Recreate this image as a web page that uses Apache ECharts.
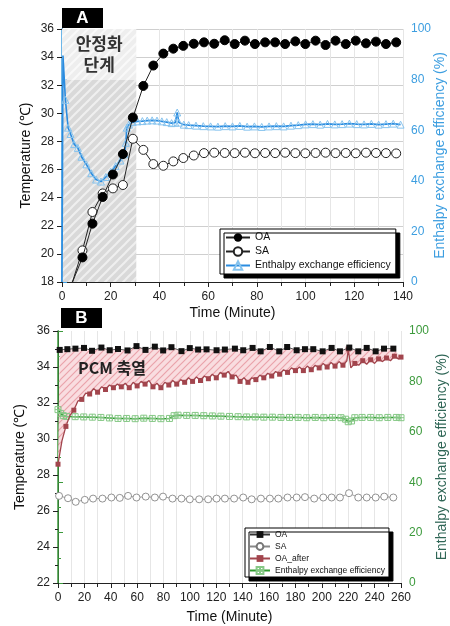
<!DOCTYPE html>
<html>
<head>
<meta charset="utf-8">
<script src="https://cdn.jsdelivr.net/npm/echarts/dist/echarts.min.js"></script>
<style>
html,body{margin:0;padding:0;background:#fff}
#chartA,#chartB{position:absolute;left:0;width:450px;height:326px}
#chartA{top:0}
#chartB{top:300px}
</style>
</head>
<body>
<div id="chartA"></div>
<div id="chartB"></div>
<script>
// ---------- A : 안정화 단계 ----------
var aTime = [4.1, 8.4, 12.5, 16.7, 20.9, 25.0, 29.1, 33.4, 37.5, 41.6, 45.7, 49.8, 54.1, 58.3, 62.5, 66.8, 70.9,
  75.1, 79.2, 83.4, 87.5, 91.6, 95.8, 99.9, 104.1, 108.2, 112.3, 116.5, 120.6, 124.8, 128.9, 133.0, 137.2];
var aOA = [17.9, 19.75, 22.15, 24.05, 25.65, 27.1, 29.7, 31.95, 33.4, 34.25, 34.6, 34.8, 34.95, 35.05, 34.95, 35.2, 34.93,
  35.17, 34.93, 35.05, 35.05, 34.93, 35.12, 34.93, 35.17, 34.86, 35.17, 34.93, 35.17, 34.98, 35.1, 34.93, 35.05];
var aSA = [17.9, 20.25, 22.98, 24.3, 24.66, 24.9, 28.19, 27.4, 26.39, 26.27, 26.58, 26.82, 27.0, 27.17, 27.2, 27.18, 27.17,
  27.2, 27.16, 27.18, 27.17, 27.2, 27.17, 27.16, 27.18, 27.2, 27.17, 27.18, 27.16, 27.2, 27.18, 27.17, 27.15];
var aEffTime = [0, 0.4, 1.4, 2.5, 3.5, 5, 6.5, 8, 10, 12, 14, 16, 18, 20, 22, 24, 25.7, 26.2, 26.6, 27.5, 29, 31, 33, 35, 37,
  39, 41, 43, 45, 46.5, 47.3, 48, 50, 52, 55, 58, 61, 64, 67, 70, 73, 76, 79, 82, 85, 88, 91, 94, 97, 100, 103, 106, 109,
  112, 115, 118, 121, 124, 127, 130, 133, 136, 139];
var aEff = [0, 89.5, 72, 61, 58.5, 54.5, 53, 49.5, 46.5, 43, 40.5, 39.7, 41.5, 43.5, 45.8, 48, 50.5, 55, 61, 62.2, 63.2, 63.5,
  63.6, 63.8, 63.9, 63.8, 63.5, 63.2, 62.8, 63, 67, 63, 62.2, 62, 61.8, 61.6, 61.5, 61.4, 61.6, 61.5, 61.7, 61.4, 61.5,
  61.3, 61.5, 61.6, 61.5, 61.8, 62.0, 62.3, 62.4, 62.2, 62.5, 62.3, 62.4, 62.6, 62.4, 62.3, 62.5, 62.2, 62.4, 62.6, 62.2];
var aStageEnd = 30.5;   // 안정화 단계 끝 (min)
var aStageSplit = 32.4; // 글자 박스 아래 경계 (℃)

// ---------- B : PCM 축열 ----------
var bOATime = [1.3, 7.1, 13.2, 19.7, 25.8, 32.9, 39.2, 45.5, 52.7, 59.5, 66.3, 73.4, 79.7, 86.0, 93.6, 99.9, 106.2, 112.6,
  120.2, 126.5, 134.1, 140.4, 147.5, 153.6, 160.6, 167.7, 173.7, 180.9, 187.2, 193.5, 200.6, 207.4, 213.7, 220.8, 227.6,
  234.0, 240.8, 247.1, 254.2];
var bOA = [34.95, 34.99, 35.02, 35.06, 34.9, 35.08, 34.93, 35.0, 34.92, 35.16, 34.95, 35.13, 34.92, 35.1, 34.88, 35.05, 34.97,
  34.98, 34.93, 34.97, 35.02, 34.93, 35.06, 34.87, 35.11, 34.87, 35.11, 34.93, 34.99, 34.99, 34.87, 35.06, 34.87, 35.08,
  34.87, 35.06, 34.87, 35.02, 35.02];
var bSATime = [0.8, 7.6, 13.4, 20.3, 26.6, 33.7, 40.5, 46.8, 53.1, 59.5, 66.5, 73.4, 79.6, 86.8, 93.6, 99.9, 107.0, 113.8,
  120.2, 126.5, 133.5, 140.4, 146.8, 153.8, 160.6, 167.0, 174.0, 180.9, 187.2, 194.2, 201.1, 207.4, 213.7, 220.6, 227.6,
  234.0, 240.8, 247.3, 254.2];
var bSA = [26.84, 26.71, 26.51, 26.62, 26.69, 26.69, 26.75, 26.73, 26.84, 26.75, 26.8, 26.75, 26.8, 26.69, 26.69, 26.65,
  26.65, 26.65, 26.69, 26.69, 26.69, 26.75, 26.65, 26.69, 26.69, 26.69, 26.75, 26.75, 26.77, 26.69, 26.75, 26.75, 26.75,
  26.99, 26.75, 26.75, 26.75, 26.8, 26.75];
var bAfterTime = [0, 3, 6, 9, 12, 15, 18, 21, 24, 27, 30, 33, 36, 39, 42, 45, 48, 51, 54, 57, 60, 63, 66, 69, 72, 75, 78,
  81, 84, 87, 90, 93, 96, 99, 102, 105, 108, 111, 114, 117, 120, 123, 126, 129, 132, 135, 138, 141, 144, 147, 150, 153,
  156, 159, 162, 165, 168, 171, 174, 177, 180, 183, 186, 189, 192, 195, 198, 201, 204, 207, 210, 213, 216, 219, 220, 222,
  225, 228, 231, 234, 237, 240, 243, 246, 249, 252, 255, 258, 260];
var bAfter = [28.6, 29.9, 30.7, 31.3, 31.6, 32.1, 32.2, 32.55, 32.5, 32.8, 32.6, 32.9, 32.75, 33.0, 32.85, 33.05, 32.9, 33.1,
  32.85, 33.15, 32.95, 33.2, 33.05, 33.25, 32.9, 33.1, 32.85, 33.15, 33.0, 33.25, 33.05, 33.3, 33.15, 33.4, 33.2, 33.45,
  33.25, 33.5, 33.35, 33.6, 33.4, 33.7, 33.55, 33.75, 33.45, 33.55, 33.2, 33.4, 33.15, 33.4, 33.3, 33.55, 33.4, 33.65,
  33.5, 33.75, 33.6, 33.85, 33.7, 33.95, 33.8, 34.0, 33.8, 34.05, 33.85, 34.1, 33.95, 34.2, 34.0, 34.25, 34.05, 34.3, 34.1,
  34.35, 35.0, 33.95, 34.2, 34.1, 34.35, 34.15, 34.4, 34.2, 34.45, 34.3, 34.5, 34.35, 34.6, 34.45, 34.55];
var bEffTime = [0, 2, 4, 6.5, 13, 19.5, 26, 32.5, 39, 45.5, 52, 58.5, 65, 71.5, 78, 84.5, 88, 91, 97.5, 104, 110.5, 117,
  123.5, 130, 136.5, 143, 149.5, 156, 162.5, 169, 175.5, 182, 188.5, 195, 201.5, 208, 214.5, 218, 220, 222.5, 225, 230.5,
  237, 243.5, 250, 256.5, 260];
var bEff = [68.8, 67.3, 66.4, 66.1, 66.0, 65.9, 65.8, 65.7, 65.5, 65.3, 65.3, 65.2, 65.4, 65.3, 65.2, 65.3, 66.4, 66.6, 66.5,
  66.5, 66.4, 66.3, 66.2, 66.1, 66.0, 65.9, 65.9, 65.8, 65.8, 65.7, 65.7, 65.7, 65.6, 65.7, 65.6, 65.7, 65.6, 65.0, 64.0,
  64.3, 65.6, 65.7, 65.7, 65.6, 65.7, 65.7, 65.6];

var FONT = 'Liberation Sans, Arial, sans-serif';

function pairs(xs, ys) {
  return xs.map(function (x, i) { return [x, ys[i]]; });
}

// 빗금 패턴
function hatch(bg, fg, size, lw) {
  var c = document.createElement('canvas');
  c.width = c.height = size;
  var g = c.getContext('2d');
  g.fillStyle = bg;
  g.fillRect(0, 0, size, size);
  g.strokeStyle = fg;
  g.lineWidth = lw;
  g.beginPath();
  g.moveTo(0, size); g.lineTo(size, 0);
  g.moveTo(-size / 2, size / 2); g.lineTo(size / 2, -size / 2);
  g.moveTo(size / 2, size * 1.5); g.lineTo(size * 1.5, size / 2);
  g.stroke();
  return { image: c, repeat: 'repeat' };
}

function tag(letter, x, y) {
  return {
    type: 'rect', left: x, top: y, shape: { width: 41, height: 20 }, style: { fill: '#000' },
    textContent: { style: { text: letter, fill: '#fff', font: 'bold 17px ' + FONT } },
    textConfig: { position: 'inside' }
  };
}

function legendBox(left, top, fs, gap, iw, pad) {
  return {
    orient: 'vertical', left: left, top: top, padding: pad, itemGap: gap,
    itemWidth: iw, itemHeight: fs, backgroundColor: '#fff', borderColor: '#000', borderWidth: 1,
    shadowColor: '#000', shadowOffsetX: 4, shadowOffsetY: 4, shadowBlur: 0, borderRadius: 0,
    textStyle: { fontSize: fs, color: '#111', fontFamily: FONT }
  };
}

function topAxis(max) {
  return {
    type: 'value', position: 'top', min: 0, max: max, interval: 10,
    axisLine: { show: true, lineStyle: { color: '#222' } },
    axisTick: { show: true, inside: true, length: 4, lineStyle: { color: '#222' } },
    axisLabel: { show: false },
    splitLine: { show: true, lineStyle: { color: '#e6e6e6', width: 1 } }
  };
}

function bottomAxis(max, gap) {
  return {
    type: 'value', position: 'bottom', min: 0, max: max, interval: 20,
    name: 'Time (Minute)', nameLocation: 'middle', nameGap: gap, nameMoveOverlap: false,
    nameTextStyle: { fontSize: 14, color: '#111', fontFamily: FONT },
    axisLine: { show: true, onZero: false, lineStyle: { color: '#222' } },
    axisTick: { show: true, length: 5, lineStyle: { color: '#222' } },
    minorTick: { show: true, splitNumber: 2, length: 3, lineStyle: { color: '#222' } },
    axisLabel: { fontSize: 12, color: '#222', margin: 9, fontFamily: FONT },
    splitLine: { show: false }
  };
}

function leftAxis(min, max, gridColor, minor, gap) {
  return {
    type: 'value', position: 'left', min: min, max: max, interval: 2,
    name: 'Temperature (℃)', nameLocation: 'middle', nameGap: gap, nameMoveOverlap: false,
    nameTextStyle: { fontSize: 14, color: '#111', fontFamily: FONT },
    axisLine: { show: true, onZero: false, lineStyle: { color: '#222' } },
    axisTick: { show: true, length: 5, lineStyle: { color: '#222' } },
    minorTick: { show: minor, splitNumber: 2, length: 3, lineStyle: { color: '#222' } },
    axisLabel: { fontSize: 12, color: '#222', margin: 8, fontFamily: FONT },
    splitLine: { show: !!gridColor, lineStyle: { color: gridColor || '#ddd' } }
  };
}

function rightAxis(color, nameColor, gap) {
  return {
    type: 'value', position: 'right', min: 0, max: 100, interval: 20,
    name: 'Enthalpy exchange efficiency (%)', nameLocation: 'middle', nameGap: gap, nameMoveOverlap: false,
    nameTextStyle: { fontSize: 14, color: nameColor, fontFamily: FONT },
    axisLine: { show: true, lineStyle: { color: color, width: 1.5 } },
    axisTick: { show: true, length: 5, lineStyle: { color: color } },
    minorTick: { show: true, splitNumber: 2, length: 3, lineStyle: { color: color } },
    axisLabel: { fontSize: 12, color: color, margin: 8, fontFamily: FONT },
    splitLine: { show: false }
  };
}

// ================= Chart A =================
var chartA = echarts.init(document.getElementById('chartA'));
var legA = legendBox(220, 229, 10.5, 3, 24, [3, 5]);
legA.data = ['OA', 'SA', 'Enthalpy exchange efficiency'];
chartA.setOption({
  animation: false,
  textStyle: { fontFamily: FONT },
  grid: { left: 62, top: 29, width: 341, height: 253, outerBoundsMode: 'none' },
  legend: legA,
  graphic: [tag('A', 62, 8)],
  xAxis: [bottomAxis(140, 24), topAxis(140)],
  yAxis: [leftAxis(18, 36, '#cfcfcf', false, 29), rightAxis('#3d9ee0', '#3d9ee0', 30)],
  series: [
    {
      type: 'line', data: [], z: 1, silent: true,
      markArea: {
        silent: true,
        data: [
          [{ xAxis: 0, yAxis: 18, itemStyle: { color: hatch('#d9d9d9', '#efefef', 9, 2) } },
           { xAxis: aStageEnd, yAxis: aStageSplit }],
          [{ xAxis: 0, yAxis: aStageSplit, itemStyle: { color: hatch('#eeeeee', '#f9f9f9', 9, 2) },
             label: { show: true, position: 'inside', formatter: '안정화\n단계', fontSize: 17, lineHeight: 21,
               fontWeight: 'bold', color: '#333', fontFamily: 'Noto Sans CJK KR' } },
           { xAxis: aStageEnd, yAxis: 36 }]
        ]
      }
    },
    {
      name: 'Enthalpy exchange efficiency', type: 'line', yAxisIndex: 1, z: 3,
      data: pairs(aEffTime, aEff),
      symbol: 'triangle',
      symbolSize: function (v, p) { return p.dataIndex < 2 ? 0 : 7; },
      itemStyle: { color: 'rgba(255,255,255,0)', borderColor: '#86c3ee', borderWidth: 1 },
      lineStyle: { color: '#2a8ce0', width: 1.6 }
    },
    {
      name: 'SA', type: 'line', z: 4, data: pairs(aTime, aSA),
      symbol: 'circle', symbolSize: 9,
      itemStyle: { color: '#fff', borderColor: '#222', borderWidth: 1 },
      lineStyle: { color: '#222', width: 1 }
    },
    {
      name: 'OA', type: 'line', z: 5, data: pairs(aTime, aOA),
      symbol: 'circle', symbolSize: 9,
      itemStyle: { color: '#000', borderColor: '#000' },
      lineStyle: { color: '#222', width: 1 }
    }
  ]
});

// ================= Chart B =================
var chartB = echarts.init(document.getElementById('chartB'));
var legB = legendBox(245, 228, 8.5, 3, 20, [2, 4]);
legB.data = ['OA', 'SA', 'OA_after', 'Enthalpy exchange efficiency'];
var pcmFill = hatch('#f9dde0', '#eaa3ab', 7, 1.2);
chartB.setOption({
  animation: false,
  textStyle: { fontFamily: FONT },
  grid: { left: 58, top: 31, width: 343, height: 252, outerBoundsMode: 'none' },
  legend: legB,
  graphic: [
    tag('B', 61, 8),
    { type: 'text', left: 78, top: 60, z: 10,
      style: { text: 'PCM 축열', fill: '#222', font: 'bold 16px Noto Sans CJK KR' } }
  ],
  xAxis: [bottomAxis(260, 27), topAxis(260)],
  yAxis: [leftAxis(22, 36, null, true, 31), rightAxis('#3c9a3c', '#2f6656', 34)],
  series: [
    {
      type: 'custom', z: 1, silent: true, clip: true,
      data: [[0, 30]],
      renderItem: function (params, api) {
        var pts = [];
        bOATime.forEach(function (t, i) { pts.push(api.coord([t, bOA[i]])); });
        for (var i = bAfterTime.length - 1; i >= 0; i--) pts.push(api.coord([bAfterTime[i], bAfter[i]]));
        return { type: 'polygon', shape: { points: pts }, style: { fill: pcmFill } };
      }
    },
    {
      name: 'Enthalpy exchange efficiency', type: 'line', yAxisIndex: 1, z: 3,
      data: pairs(bEffTime, bEff),
      symbol: 'path://M0 0H10V10H0ZM5 0V10M0 5H10', symbolSize: 6,
      itemStyle: { color: 'rgba(255,255,255,0)', borderColor: '#86c886', borderWidth: 1 },
      lineStyle: { color: '#2f9a2f', width: 1.5 }
    },
    {
      name: 'SA', type: 'line', z: 4, data: pairs(bSATime, bSA),
      symbol: 'circle', symbolSize: 7,
      itemStyle: { color: '#fff', borderColor: '#777', borderWidth: 0.8 },
      lineStyle: { color: '#888', width: 0.8 }
    },
    {
      name: 'OA_after', type: 'line', z: 4, data: pairs(bAfterTime, bAfter),
      symbol: 'rect',
      symbolSize: function (v, p) { return p.dataIndex % 2 === 0 ? 5 : 0; },
      itemStyle: { color: '#a2454d' },
      lineStyle: { color: '#a2454d', width: 1.3 }
    },
    {
      name: 'OA', type: 'line', z: 5, data: pairs(bOATime, bOA),
      symbol: 'rect', symbolSize: 6,
      itemStyle: { color: '#111' },
      lineStyle: { color: '#333', width: 0.8 }
    }
  ]
});
</script>
</body>
</html>
